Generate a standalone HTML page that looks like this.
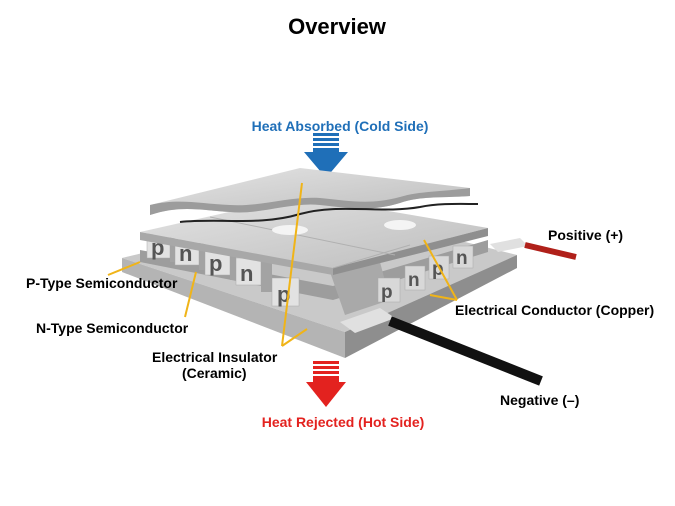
<!DOCTYPE html>
<html><head><style>
html,body{margin:0;padding:0;background:#fff;}
svg{display:block;}
text{font-family:"Liberation Sans",Arial,sans-serif;font-weight:bold;}
</style></head><body>
<svg width="675" height="506" viewBox="0 0 675 506" xmlns="http://www.w3.org/2000/svg">
<defs>
<linearGradient id="top" x1="0" y1="0" x2="1" y2="1">
<stop offset="0" stop-color="#e4e4e4"/><stop offset="1" stop-color="#bdbdbd"/></linearGradient>
</defs>
<text x="337" y="34" font-size="22" text-anchor="middle" fill="#000">Overview</text>

<g fill="#1f6fb8">
<rect x="313" y="133" width="26" height="3"/><rect x="313" y="138" width="26" height="3"/>
<rect x="313" y="143" width="26" height="3"/><rect x="313" y="148" width="26" height="4"/>
<polygon points="304,152 348,152 326,178"/>
</g>
<text x="340" y="131" font-size="14" text-anchor="middle" fill="#1f6fb8">Heat Absorbed (Cold Side)</text>

<polygon points="122,258 330,208 517,255 345,332" fill="#c9c9c9"/>
<polygon points="122,258 345,332 345,358 122,272" fill="#b4b4b4"/>
<polygon points="345,332 517,255 517,268 345,358" fill="#8e8e8e"/>

<polygon points="140,250 333,286 488,240 488,252 333,300 140,262" fill="#9d9d9d"/>
<polygon points="330,272 380,262 390,300 345,315" fill="#a9a9a9"/>

<g fill="#e2e2e2" stroke="#aaa" stroke-width="0.5">
<rect x="147" y="234" width="23" height="24"/>
<rect x="175" y="240" width="24" height="25"/>
<rect x="205" y="249" width="25" height="26"/>
<rect x="236" y="258" width="25" height="27"/>
<rect x="272" y="278" width="27" height="28"/>
</g>
<g fill="#a3a3a3">
<rect x="170" y="236" width="5" height="26"/><rect x="199" y="243" width="6" height="27"/>
<rect x="230" y="252" width="6" height="28"/><rect x="261" y="262" width="11" height="30"/>
</g>
<g font-size="22" fill="#555">
<text x="151" y="255">p</text><text x="179" y="261">n</text><text x="209" y="271">p</text>
<text x="240" y="281">n</text><text x="277" y="302">p</text>
</g>
<g fill="#d8d8d8" stroke="#aaa" stroke-width="0.5">
<rect x="378" y="278" width="22" height="24"/>
<rect x="405" y="266" width="20" height="24"/>
<rect x="429" y="256" width="20" height="23"/>
<rect x="453" y="246" width="20" height="22"/>
</g>
<g font-size="19" fill="#555">
<text x="381" y="298">p</text><text x="408" y="286">n</text><text x="432" y="275">p</text><text x="456" y="264">n</text>
</g>

<polygon points="140,232 300,196 488,228 333,268" fill="url(#top)"/>
<polygon points="140,232 333,268 333,275 140,240" fill="#a8a8a8"/>
<polygon points="333,268 488,228 488,236 333,275" fill="#8f8f8f"/>
<line x1="210" y1="217" x2="395" y2="255" stroke="#b0b0b0" stroke-width="1"/>
<line x1="333" y1="268" x2="410" y2="245" stroke="#b0b0b0"/>
<ellipse cx="290" cy="230" rx="18" ry="5" fill="#f4f4f4"/>
<ellipse cx="400" cy="225" rx="16" ry="5" fill="#f4f4f4"/>

<path d="M150,205 L300,168 L470,188 L470,196 C440,198 420,196 400,203 C370,212 350,208 320,205 C290,202 260,215 230,212 C200,210 180,205 150,215 Z" fill="url(#top)"/>
<path d="M150,205 C180,198 200,204 230,205 C260,207 290,196 320,198 C350,201 370,205 400,197 C420,191 440,192 470,188 L470,196 C440,198 420,196 400,203 C370,212 350,208 320,205 C290,202 260,215 230,212 C200,210 180,205 150,215 Z" fill="#9c9c9c"/>
<path d="M180,222 C220,218 260,226 300,214 C340,203 380,214 420,207 C440,203 460,204 478,204" fill="none" stroke="#222" stroke-width="2"/>

<polygon points="340,322 380,308 395,318 355,333" fill="#e0e0e0"/>
<polygon points="490,244 520,238 528,246 498,252" fill="#e0e0e0"/>
<line x1="525" y1="245" x2="576" y2="257" stroke="#b0201a" stroke-width="6"/>
<line x1="390" y1="321" x2="541" y2="381" stroke="#111" stroke-width="10"/>

<g stroke="#f0b418" stroke-width="2" fill="none">
<line x1="108" y1="275" x2="140" y2="262"/>
<line x1="185" y1="317" x2="196" y2="272"/>
<line x1="282" y1="346" x2="302" y2="183"/>
<line x1="282" y1="346" x2="307" y2="329"/>
<line x1="457" y1="300" x2="424" y2="240"/>
<line x1="457" y1="300" x2="430" y2="295"/>
</g>

<g fill="#e3221f">
<rect x="313" y="361" width="26" height="3"/><rect x="313" y="366" width="26" height="3"/>
<rect x="313" y="371" width="26" height="3"/><rect x="313" y="376" width="26" height="6"/>
<polygon points="306,382 346,382 326,407"/>
</g>
<g font-size="14" fill="#000">
<text x="548" y="240">Positive (+)</text>
<text x="26" y="288">P-Type Semiconductor</text>
<text x="36" y="333">N-Type Semiconductor</text>
<text x="152" y="362">Electrical Insulator</text>
<text x="182" y="378">(Ceramic)</text>
<text x="455" y="315">Electrical Conductor (Copper)</text>
<text x="500" y="405">Negative (–)</text>
</g>
<text x="343" y="427" font-size="14" text-anchor="middle" fill="#e3221f">Heat Rejected (Hot Side)</text>
</svg>
</body></html>
